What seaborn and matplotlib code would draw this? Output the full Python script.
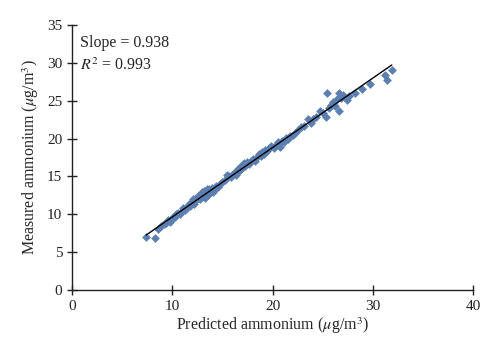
import numpy as np
import pandas as pd
import seaborn as sns
import matplotlib
matplotlib.use('Agg')
import matplotlib.pyplot as plt

# predicted vs measured ammonium (ug/m3)
predicted = [7.4, 8.3, 8.6, 8.9, 9.2, 9.4, 9.6, 9.8, 10.0, 10.1, 10.3, 10.4, 10.6, 10.8,
             11.0, 11.1, 11.3, 11.5, 11.7, 11.8, 11.9, 12.0, 12.1, 12.2, 12.3, 12.4, 12.6,
             12.7, 12.8, 12.9, 13.0, 13.1, 13.2, 13.3, 13.4, 13.5, 13.6, 13.7, 13.8, 14.0,
             14.1, 14.2, 14.4, 14.6, 14.8, 15.0, 15.3, 15.5, 15.7, 15.9, 16.1, 16.3, 16.4,
             16.6, 16.7, 16.8, 16.9, 17.0, 17.1, 17.2, 17.3, 17.5, 17.7, 17.9, 18.1, 18.3,
             18.5, 18.7, 18.9, 19.0, 19.2, 19.3, 19.5, 19.7, 19.9, 20.1, 20.3, 20.5, 20.7,
             20.9, 21.1, 21.3, 21.5, 21.7, 22.0, 22.2, 22.5, 22.8, 23.1, 23.5, 23.8, 24.0,
             24.3, 24.7, 25.0, 25.3, 25.4, 25.6, 25.8, 26.0, 26.2, 26.4, 26.6, 26.6, 26.8,
             27.0, 27.4, 27.6, 28.2, 28.9, 29.7, 31.2, 31.4, 31.9]
measured = [7.0, 6.9, 8.0, 8.4, 8.7, 8.9, 9.2, 9.0, 9.4, 9.7, 9.6, 10.0, 10.2, 10.0,
            10.5, 10.8, 10.6, 11.0, 11.3, 11.1, 11.5, 11.6, 12.0, 11.4, 11.8, 12.2, 12.4,
            12.1, 12.0, 12.6, 12.9, 12.4, 13.1, 12.2, 12.8, 13.3, 12.6, 13.4, 13.0, 13.5,
            12.9, 13.2, 13.8, 13.6, 14.0, 14.2, 14.5, 15.2, 15.0, 14.9, 15.3, 15.6, 15.2,
            16.0, 15.7, 16.3, 16.0, 16.5, 16.2, 16.8, 16.4, 16.9, 16.6, 17.1, 17.3, 17.0,
            17.6, 17.9, 17.7, 18.2, 18.0, 18.5, 18.3, 18.7, 19.0, 18.8, 19.2, 19.5, 18.9,
            19.7, 19.6, 20.1, 20.0, 20.4, 20.5, 20.8, 21.2, 21.5, 21.7, 22.6, 22.0, 22.6,
            22.9, 23.6, 23.4, 22.8, 26.0, 24.0, 24.5, 24.8, 24.3, 25.2, 26.0, 23.6, 25.4,
            25.8, 25.1, 25.6, 26.0, 26.6, 27.2, 28.4, 27.7, 29.1]

df = pd.DataFrame({'predicted': predicted, 'measured': measured})

sns.set_style('ticks')
plt.rcParams['font.family'] = ['Liberation Serif', 'DejaVu Serif']
plt.rcParams['mathtext.fontset'] = 'stix'

fig = plt.figure(figsize=(5, 3.58), dpi=100)
ax = fig.add_axes([0.144, 0.19, 0.802, 0.74])

sns.regplot(data=df, x='predicted', y='measured', ax=ax, ci=None, marker='D',
            scatter_kws={'color': '#5b7fb1', 's': 20, 'linewidths': 0, 'alpha': 1},
            line_kws={'color': 'black', 'lw': 1})

ax.set_xlim(0, 40)
ax.set_ylim(0, 35)
ax.set_xticks(range(0, 41, 10))
ax.set_yticks(range(0, 36, 5))
ax.tick_params(direction='inout', length=7, width=1, labelsize=11, colors='#222222')
sns.despine(ax=ax)
for s in ['left', 'bottom']:
    ax.spines[s].set_linewidth(1)
    ax.spines[s].set_color('#222222')

ax.set_xlabel(r'Predicted ammonium ($\mu$g/m$^3$)', fontsize=11.5, labelpad=2)
ax.set_ylabel(r'Measured ammonium ($\mu$g/m$^3$)', fontsize=11.5, labelpad=4)

ax.text(0.8, 32.6, 'Slope = 0.938', fontsize=11.5, va='center')
ax.text(0.8, 29.6, r'$R^2$ = 0.993', fontsize=11.5, va='center')

plt.savefig('out.png', dpi=100)
